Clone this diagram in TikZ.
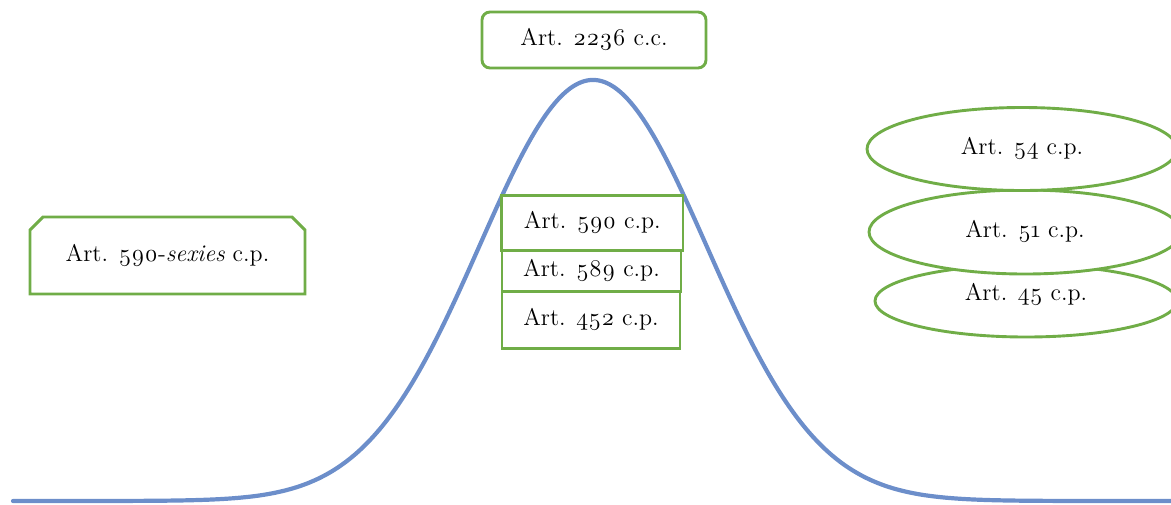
\documentclass[tikz,border=0pt]{standalone}
\usepackage{fontspec}
\setmainfont{Latin Modern Roman}[Numbers=OldStyle]
\usetikzlibrary{shapes.geometric}
\definecolor{grn}{RGB}{112,173,71}
\definecolor{crv}{RGB}{108,142,202}
\begin{document}
\begin{tikzpicture}[x=0.5pt,y=-0.5pt,
  every node/.style={font=\fontsize{12}{14}\selectfont, outer sep=0pt, inner sep=0pt},
  gbox/.style={draw=grn, line width=1.45pt, fill=white},
  gell/.style={ellipse, draw=grn, line width=1.45pt, fill=white}]
\useasboundingbox (0,0) rectangle (1171,504);
% bell curve
\draw[crv, line width=2.1pt, line cap=round] plot[domain=13:1171, samples=240, smooth]
  (\x, {501-421*exp(-((\x-593)/160.4)^2)});
% top box
\node[gbox, rounded corners=4pt, minimum width=112pt, minimum height=28pt] (top) at (594,40) {Art. 2236 c.c.};
% left chamfered box
\node[minimum width=137.5pt, minimum height=38.5pt] (ls) at (167.5,255.5) {};
\draw[draw=grn, line width=1.45pt, fill=white]
  ([yshift=-6.5pt]ls.north west) -- ([xshift=6.5pt]ls.north west) -- ([xshift=-6.5pt]ls.north east)
  -- ([yshift=-6.5pt]ls.north east) -- (ls.south east) -- (ls.south west) -- cycle;
\node at (ls.center) {Art. 590-\textit{sexies} c.p.};
% centre stack
\node[gbox, minimum width=89pt, minimum height=28.3pt] (a452) at (591,320) {Art. 452 c.p.};
\node[gbox, minimum width=89.5pt, minimum height=20.8pt] (a589) at (591.5,271) {Art. 589 c.p.};
\node[gbox, minimum width=90.7pt, minimum height=27.2pt] (a590) at (592.3,223) {Art. 590 c.p.};
% right ellipses
\node[gell, minimum width=151pt, minimum height=36pt] (a45) at (1026,301) {};
\node at ([yshift=3pt]a45.center) {Art. 45 c.p.};
\node[gell, minimum width=156pt, minimum height=42pt] (a51) at (1025,232) {Art. 51 c.p.};
\node[gell, minimum width=155pt, minimum height=41.5pt] (a54) at (1022,149) {Art. 54 c.p.};
\end{tikzpicture}
\end{document}
